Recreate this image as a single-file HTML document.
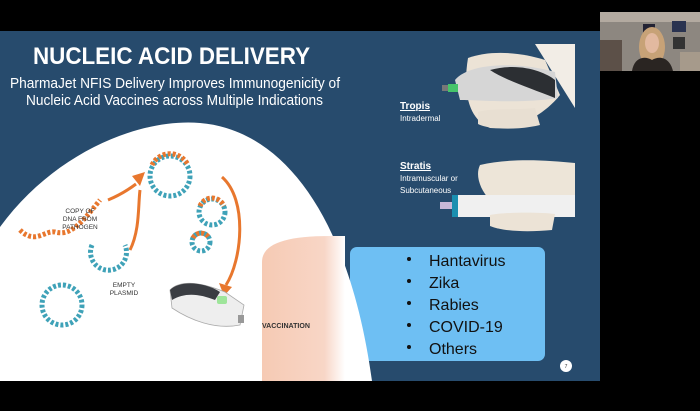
<!DOCTYPE html>
<html><head><meta charset="utf-8"><style>
html,body{margin:0;padding:0;background:#000;}
svg{display:block;}
text{font-family:"Liberation Sans",sans-serif;}
</style></head><body>
<svg width="700" height="411" viewBox="0 0 700 411" xmlns="http://www.w3.org/2000/svg">
<defs>
<linearGradient id="sk" x1="0" x2="1" y1="0" y2="0">
<stop offset="0" stop-color="#f6cab4"/><stop offset="0.75" stop-color="#f8d6c6"/><stop offset="1" stop-color="#fff"/>
</linearGradient>
</defs>
<rect width="700" height="411" fill="#000"/>
<!-- slide -->
<rect x="0" y="31" width="600" height="350" fill="#274b6d"/>
<!-- light blue box -->
<rect x="350" y="247" width="195" height="114" rx="7" fill="#6ebff3"/>
<!-- white blob -->
<path d="M0,227 C55,152 140,118 200,123 C285,130 350,220 372,381 L0,381 Z" fill="#fff"/>
<!-- skin -->
<path d="M262,381 L262,262 C262,244 285,236 330,236 L345,236 L345,381 Z" fill="url(#sk)"/>
<text x="262" y="328" font-size="7.5" font-weight="bold" fill="#333" textLength="48" lengthAdjust="spacingAndGlyphs">VACCINATION</text>
<!-- title -->
<text x="33" y="64" font-size="24" font-weight="bold" fill="#fff" textLength="277" lengthAdjust="spacingAndGlyphs">NUCLEIC ACID DELIVERY</text>
<text x="10" y="88" font-size="15" fill="#fff" textLength="330" lengthAdjust="spacingAndGlyphs">PharmaJet NFIS Delivery Improves Immunogenicity of</text>
<text x="26" y="105" font-size="15" fill="#fff" textLength="297" lengthAdjust="spacingAndGlyphs">Nucleic Acid Vaccines across Multiple Indications</text>
<!-- labels -->
<text x="400" y="109" font-size="10" font-weight="bold" fill="#fff" text-decoration="underline">Tropis</text>
<text x="400" y="121" font-size="8" fill="#fff">Intradermal</text>
<text x="400" y="169" font-size="10" font-weight="bold" fill="#fff" text-decoration="underline">Stratis</text>
<text x="400" y="181" font-size="8" fill="#fff">Intramuscular or</text>
<text x="400" y="193" font-size="8" fill="#fff">Subcutaneous</text>
<!-- tropis device & hand -->
<path d="M535,44 L575,44 L575,108 Z" fill="#f2ede6"/>
<path d="M468,58 C490,50 520,52 545,60 L560,95 C540,120 510,130 490,128 C470,120 462,95 468,58 Z" fill="#ece3d6"/>
<path d="M455,80 C470,62 520,62 555,72 L558,98 C520,104 480,100 460,100 Z" fill="#d6d6d6"/>
<path d="M490,70 C520,62 545,72 555,80 L555,98 C530,88 505,80 490,70 Z" fill="#2c2f33"/>
<rect x="448" y="84" width="10" height="8" fill="#45c46a"/>
<rect x="442" y="85" width="6" height="6" fill="#777"/>
<path d="M478,112 C490,108 520,110 535,108 L540,125 C520,130 490,130 478,124 Z" fill="#e8dfd2"/>
<!-- stratis device & hand -->
<path d="M480,165 C510,158 545,160 575,163 L575,200 L490,200 C480,190 475,175 480,165 Z" fill="#ede5d8"/>
<rect x="452" y="195" width="123" height="22" fill="#f0f0f0"/>
<rect x="452" y="195" width="6" height="22" fill="#1b8fb0"/>
<rect x="440" y="202" width="12" height="7" fill="#c8b8d8"/>
<path d="M490,215 C505,212 540,212 555,214 L552,230 C530,232 505,232 490,226 Z" fill="#ece3d6"/>
<!-- bullets -->
<g font-size="16" fill="#111">
<circle cx="409" cy="259" r="2" fill="#111"/><text x="429" y="266">Hantavirus</text>
<circle cx="409" cy="281" r="2" fill="#111"/><text x="429" y="288">Zika</text>
<circle cx="409" cy="303" r="2" fill="#111"/><text x="429" y="310">Rabies</text>
<circle cx="409" cy="325" r="2" fill="#111"/><text x="429" y="332">COVID-19</text>
<circle cx="409" cy="347" r="2" fill="#111"/><text x="429" y="354">Others</text>
</g>
<circle cx="566" cy="366" r="6" fill="#fff"/>
<text x="566" y="368" font-size="5" fill="#333" text-anchor="middle">7</text>
<!-- DNA plasmids -->
<g fill="none" stroke-width="5" stroke-dasharray="3 2">
<circle cx="170" cy="176" r="20" stroke="#3fa2b8"/>
<path d="M152,165 A20,20 0 0 1 188,165" stroke="#e8772e"/>
<circle cx="212" cy="212" r="13" stroke="#3fa2b8"/>
<path d="M200,206 A13,13 0 0 1 224,206" stroke="#e8772e"/>
<circle cx="201" cy="242" r="9" stroke="#3fa2b8"/>
<path d="M193,238 A9,9 0 0 1 209,238" stroke="#e8772e"/>
<circle cx="62" cy="305" r="20" stroke="#3fa2b8"/>
<path d="M92,245 A18,18 0 1 0 125,245" stroke="#3fa2b8"/>
<path d="M20,230 C35,245 45,230 55,232 C70,236 80,225 100,200" stroke="#e8772e"/>
</g>
<text x="80" y="213" font-size="6.5" fill="#333" text-anchor="middle">COPY OF</text>
<text x="80" y="221" font-size="6.5" fill="#333" text-anchor="middle">DNA FROM</text>
<text x="80" y="229" font-size="6.5" fill="#333" text-anchor="middle">PATHOGEN</text>
<text x="124" y="287" font-size="6.5" fill="#333" text-anchor="middle">EMPTY</text>
<text x="124" y="295" font-size="6.5" fill="#333" text-anchor="middle">PLASMID</text>
<!-- orange arrows -->
<g fill="none" stroke="#e8772e" stroke-width="3">
<path d="M108,200 C120,195 128,190 136,184"/>
<path d="M130,250 C140,230 138,205 140,190"/>
<path d="M222,177 C248,200 242,260 226,285"/>
</g>
<path d="M132,176 L145,172 L140,186 Z" fill="#e8772e"/>
<path d="M219,283 L232,287 L224,296 Z" fill="#e8772e"/>
<!-- injector device -->
<path d="M170,290 C180,280 200,282 225,292 L244,305 L240,325 C215,330 190,320 172,308 Z" fill="#eeeeee" stroke="#aaa" stroke-width="0.8"/>
<path d="M170,290 C180,280 205,282 220,292 L215,300 C200,294 185,292 172,300 Z" fill="#3a3d42"/>
<rect x="217" y="296" width="10" height="8" rx="2" fill="#9ee59a"/>
<rect x="238" y="315" width="6" height="8" fill="#999"/>
<!-- webcam -->
<rect x="600" y="12" width="100" height="59" fill="#8d8780"/>
<rect x="600" y="12" width="100" height="10" fill="#b3aaa0"/>
<rect x="600" y="40" width="22" height="31" fill="#5c5048"/>
<rect x="643" y="24" width="12" height="10" fill="#223"/>
<rect x="672" y="21" width="14" height="11" fill="#2a3350"/>
<rect x="673" y="37" width="12" height="12" fill="#333"/>
<ellipse cx="652" cy="47" rx="13" ry="20" fill="#c7a277"/>
<ellipse cx="652" cy="43" rx="7" ry="10" fill="#e2b9a0"/>
<path d="M632,71 C634,58 644,55 652,60 C660,55 670,58 673,71 Z" fill="#2a2522"/>
<rect x="680" y="52" width="20" height="19" fill="#a69a8b"/>
</svg>
</body></html>
